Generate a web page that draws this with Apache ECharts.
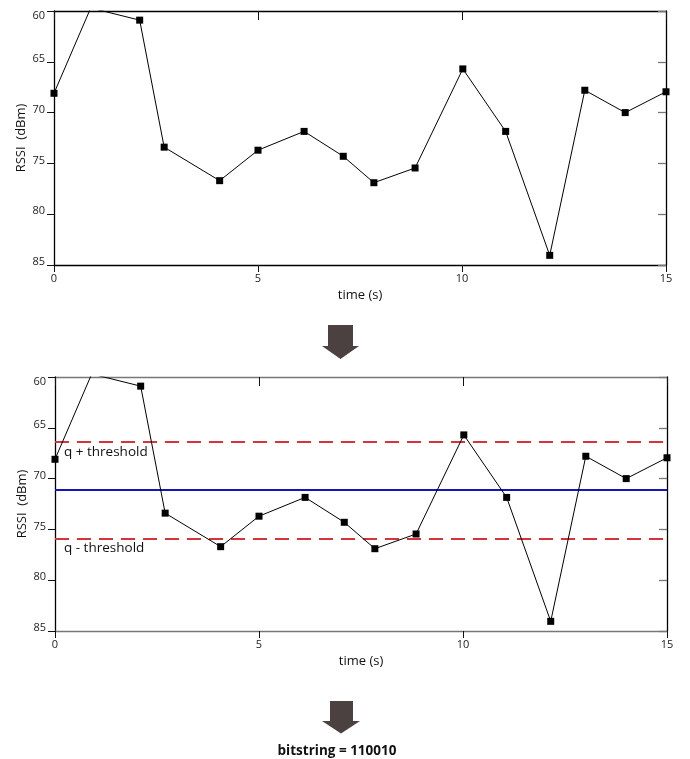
<!DOCTYPE html>
<html>
<head>
<meta charset="utf-8">
<script src="https://cdn.jsdelivr.net/npm/echarts@6/dist/echarts.min.js"></script>
<style>
html,body{margin:0;padding:0;background:#fff;}
#chart{width:690px;height:759px;}
</style>
</head>
<body>
<div id="chart"></div>
<script>
// ---- data ----
const TIMES = [0, 0.9, 2.1, 2.7, 4.06, 5.0, 6.13, 7.09, 7.84, 8.85, 10.02, 11.07, 12.15, 13.01, 14.0, 15.0];
const RSSI  = [68.1, 59.7, 60.9, 73.4, 76.7, 73.7, 71.85, 74.3, 76.9, 75.45, 65.7, 71.85, 84.05, 67.8, 70.0, 67.95];
const Q = 71.1;
const UPPER = 66.4;   // q + threshold
const LOWER = 75.9;   // q - threshold
const UPPER_LABEL = 'q + threshold';
const LOWER_LABEL = 'q - threshold';
const X_TICKS = { min: 0, max: 15, interval: 5 };
const Y_TICKS = { min: 60, max: 85, interval: 5 };
const X_NAME = 'time (s)';
const Y_NAME = 'RSSI  (dBm)';
const BITSTRING = 'bitstring = 110010';

const FONT = 'Open Sans';
const points = TIMES.map((t, i) => [t, RSSI[i]]);

function axesFor(gi, frameTopBottom) {
  const xs = [
    {
      type: 'value', gridIndex: gi, position: 'bottom',
      min: X_TICKS.min, max: X_TICKS.max, interval: X_TICKS.interval,
      name: X_NAME, nameLocation: 'middle', nameGap: 24, nameMoveOverlap: false,
      nameTextStyle: { fontFamily: FONT, fontSize: 13, color: '#111' },
      axisLine: { show: true, onZero: false, lineStyle: { color: frameTopBottom, width: 1.3 } },
      axisTick: { show: true, inside: false, length: 7, lineStyle: { color: '#111' } },
      axisLabel: { fontFamily: FONT, fontSize: 11, color: '#222', margin: 8 },
      splitLine: { show: false }
    },
    {
      type: 'value', gridIndex: gi, position: 'top',
      min: X_TICKS.min, max: X_TICKS.max, interval: X_TICKS.interval,
      axisLine: { show: true, onZero: false, lineStyle: { color: frameTopBottom, width: 1.3 } },
      axisTick: { show: true, inside: true, length: 9, lineStyle: { color: '#111' } },
      axisLabel: { show: false },
      splitLine: { show: false }
    }
  ];
  const ys = [
    {
      type: 'value', gridIndex: gi, position: 'left', inverse: true,
      min: Y_TICKS.min, max: Y_TICKS.max, interval: Y_TICKS.interval,
      name: Y_NAME, nameLocation: 'middle', nameGap: 26, nameRotate: 90, nameMoveOverlap: false,
      nameTextStyle: { fontFamily: FONT, fontSize: 13, color: '#111' },
      axisLine: { show: true, onZero: false, lineStyle: { color: '#000', width: 1.3 } },
      axisTick: { show: true, inside: false, length: 7, lineStyle: { color: '#111' } },
      axisLabel: {
        fontFamily: FONT, fontSize: 11, color: '#222', margin: 9,
        formatter: (v) => (v === Y_TICKS.min ? '{t|' + v + '}' : '{n|' + v + '}'),
        rich: {
          t: { fontFamily: FONT, fontSize: 11, color: '#222', padding: [10, 0, 0, 0] },
          n: { fontFamily: FONT, fontSize: 11, color: '#222', padding: [0, 0, 6, 0] }
        }
      },
      splitLine: { show: false }
    },
    {
      type: 'value', gridIndex: gi, position: 'right', inverse: true,
      min: Y_TICKS.min, max: Y_TICKS.max, interval: Y_TICKS.interval,
      axisLine: { show: true, onZero: false, lineStyle: { color: '#000', width: 1.3 } },
      axisTick: { show: true, inside: true, length: 8, lineStyle: { color: '#777', width: 1.3 } },
      axisLabel: { show: false },
      splitLine: { show: false }
    }
  ];
  return { xs, ys };
}

const a0 = axesFor(0, '#000');
const a1 = axesFor(1, '#777');

const lineBase = {
  type: 'line',
  data: points,
  symbol: 'rect',
  symbolSize: 7,
  clip: true,
  itemStyle: { color: '#000' },
  lineStyle: { color: '#000', width: 1 },
  z: 5
};

const dashed = { color: '#d6333a', width: 2, type: [14, 8] };
const thrLabel = (txt) => ({
  show: true, formatter: txt, position: 'insideStartBottom', distance: [9, 3],
  fontFamily: FONT, fontSize: 13.5, color: '#111'
});

const option = {
  animation: false,
  backgroundColor: '#fff',
  grid: [
    { left: 54, top: 11, width: 612, height: 254 },
    { left: 55, top: 377, width: 612, height: 254 }
  ],
  xAxis: [a0.xs[0], a0.xs[1], a1.xs[0], a1.xs[1]],
  yAxis: [a0.ys[0], a0.ys[1], a1.ys[0], a1.ys[1]],
  series: [
    Object.assign({}, lineBase, { xAxisIndex: 0, yAxisIndex: 0 }),
    Object.assign({}, lineBase, {
      xAxisIndex: 2, yAxisIndex: 2,
      markLine: {
        silent: true,
        symbol: ['none', 'none'],
        animation: false,
        z: 3,
        data: [
          { yAxis: UPPER, lineStyle: dashed, label: thrLabel(UPPER_LABEL) },
          { yAxis: Q, lineStyle: { color: '#1515b8', width: 2, type: 'solid' }, label: { show: false } },
          { yAxis: LOWER, lineStyle: dashed, label: thrLabel(LOWER_LABEL) }
        ]
      }
    })
  ],
  graphic: [
    {
      type: 'polygon', silent: true,
      shape: { points: [[328,325],[353,325],[353,346],[359,346],[340.5,359],[322,346],[328,346]] },
      style: { fill: '#4a4140' }
    },
    {
      type: 'polygon', silent: true,
      shape: { points: [[330,701],[353,701],[353,721],[360,721],[341,733.5],[322,721],[330,721]] },
      style: { fill: '#4a4140' }
    },
    {
      type: 'text', silent: true, x: 337, y: 751,
      style: { text: BITSTRING, fontFamily: FONT, fontSize: 13.5, fontWeight: 'bold', fill: '#111',
               textAlign: 'center', textVerticalAlign: 'middle' }
    }
  ]
};

const chart = echarts.init(document.getElementById('chart'), null, { renderer: 'canvas' });
chart.setOption(option);
</script>
</body>
</html>
